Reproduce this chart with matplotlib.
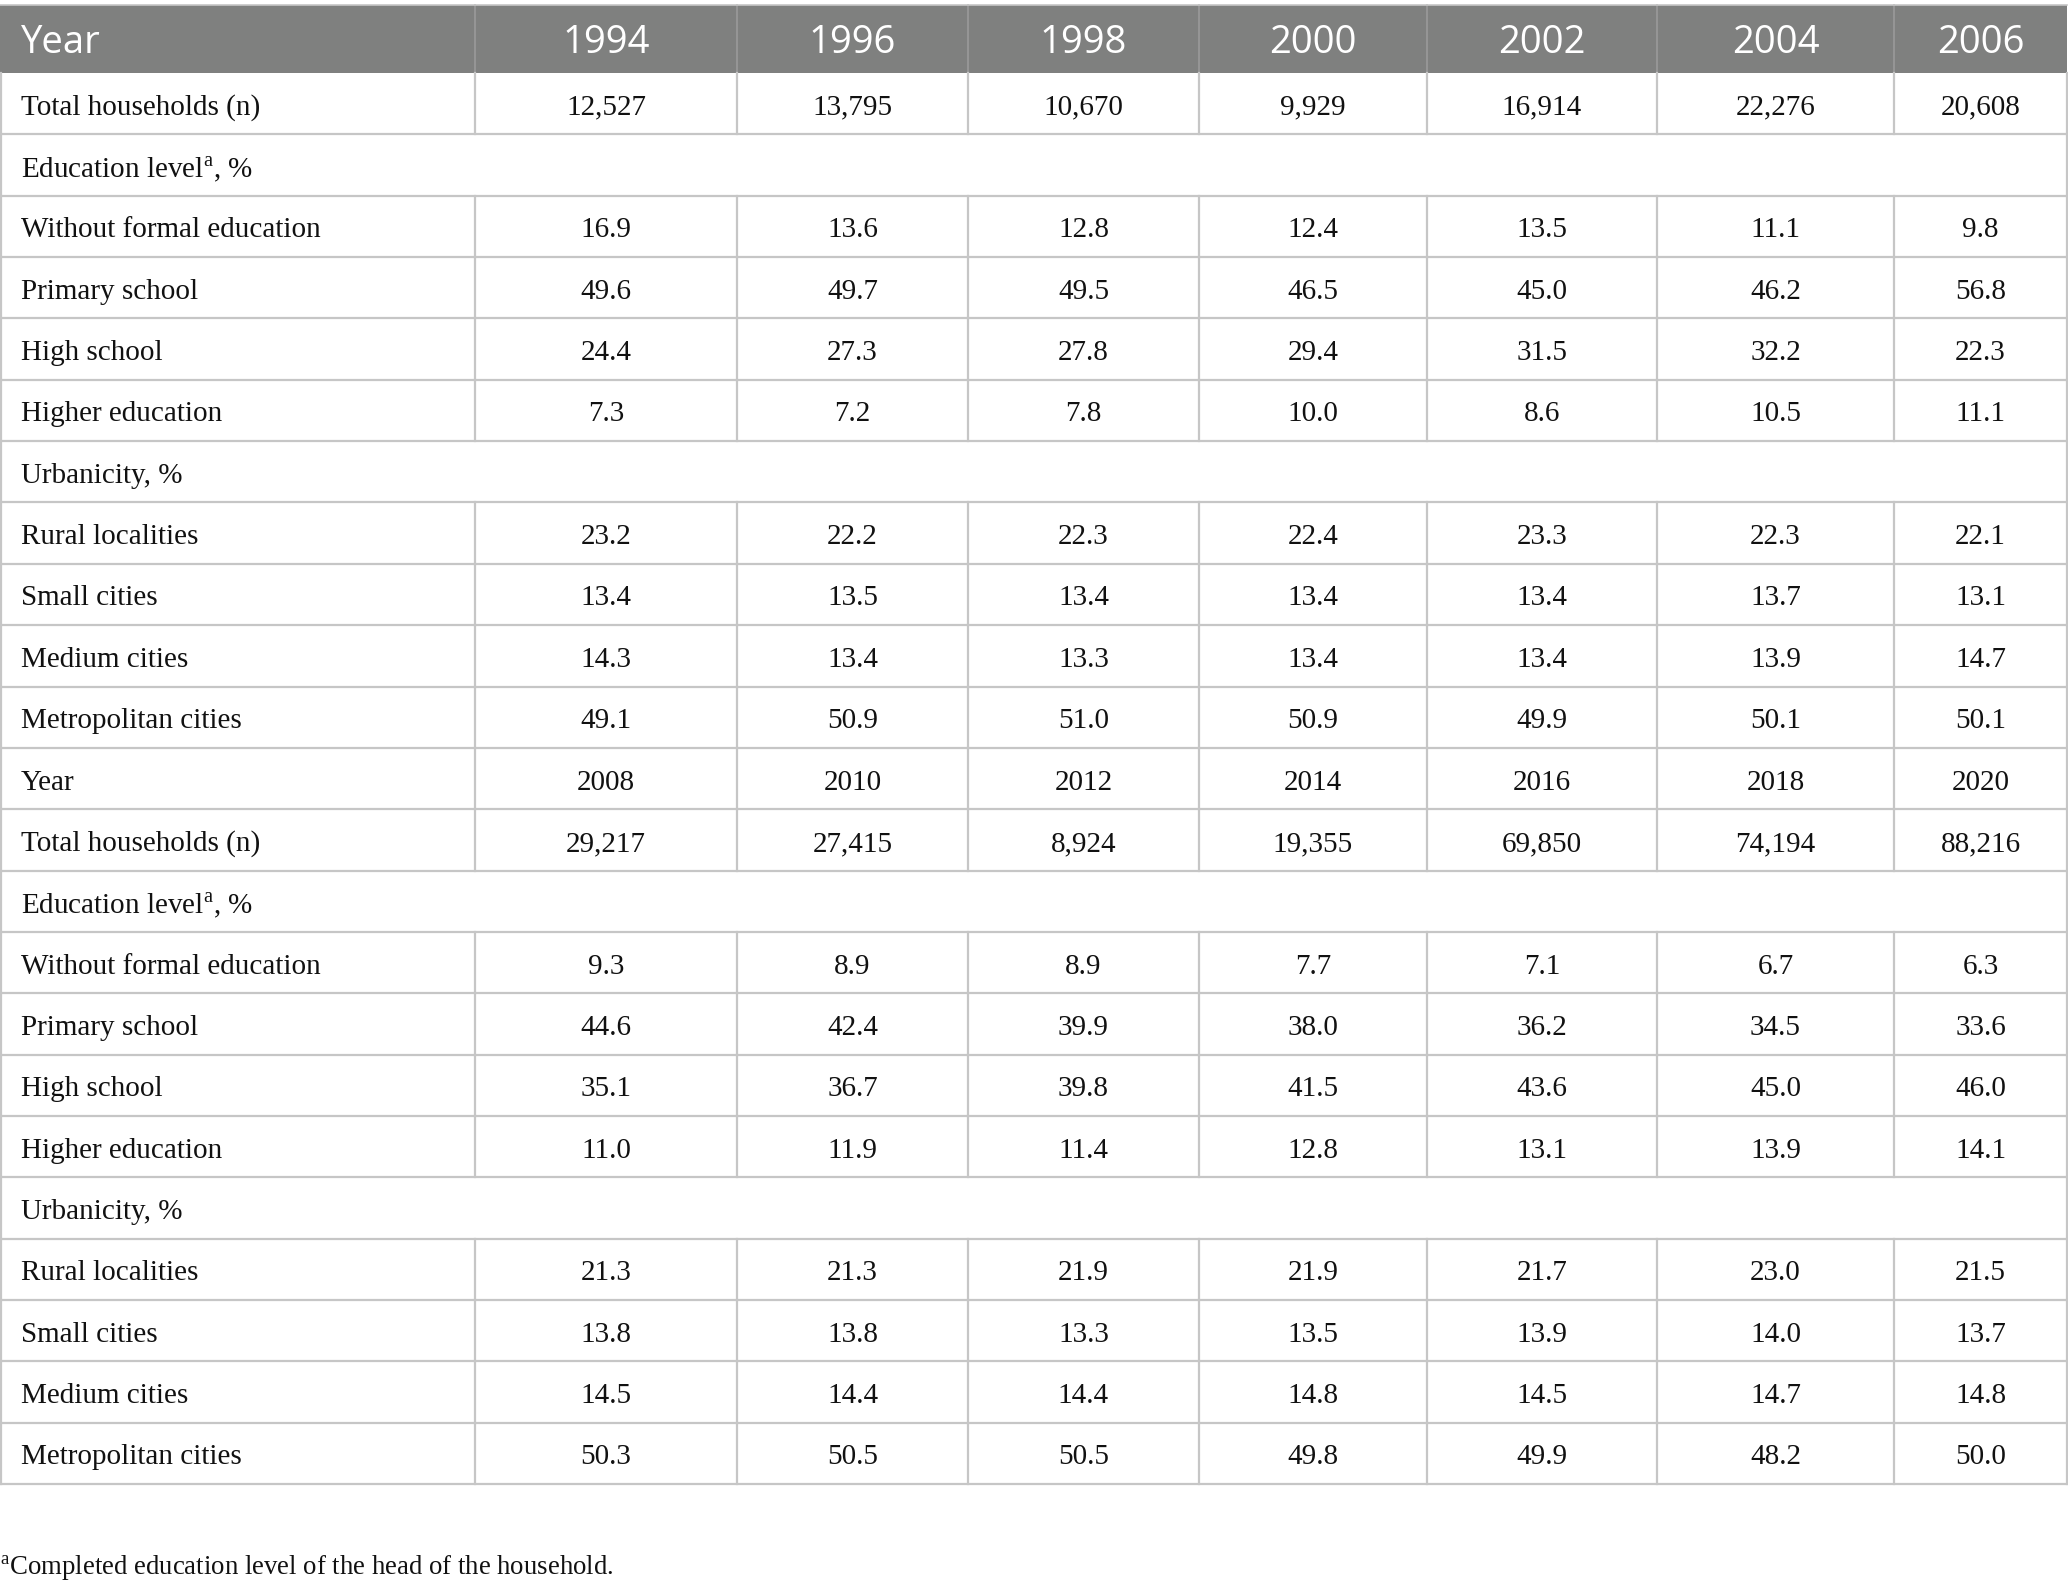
import matplotlib
matplotlib.use("Agg")
import matplotlib.pyplot as plt
from matplotlib.patches import Rectangle

# Données du tableau
years_a = [1994, 1996, 1998, 2000, 2002, 2004, 2006]
years_b = [2008, 2010, 2012, 2014, 2016, 2018, 2020]
households_a = [12527, 13795, 10670, 9929, 16914, 22276, 20608]
households_b = [29217, 27415, 8924, 19355, 69850, 74194, 88216]

edu_labels = ["Without formal education", "Primary school", "High school", "Higher education"]
edu_a = [[16.9, 13.6, 12.8, 12.4, 13.5, 11.1, 9.8],
         [49.6, 49.7, 49.5, 46.5, 45.0, 46.2, 56.8],
         [24.4, 27.3, 27.8, 29.4, 31.5, 32.2, 22.3],
         [7.3, 7.2, 7.8, 10.0, 8.6, 10.5, 11.1]]
edu_b = [[9.3, 8.9, 8.9, 7.7, 7.1, 6.7, 6.3],
         [44.6, 42.4, 39.9, 38.0, 36.2, 34.5, 33.6],
         [35.1, 36.7, 39.8, 41.5, 43.6, 45.0, 46.0],
         [11.0, 11.9, 11.4, 12.8, 13.1, 13.9, 14.1]]

urb_labels = ["Rural localities", "Small cities", "Medium cities", "Metropolitan cities"]
urb_a = [[23.2, 22.2, 22.3, 22.4, 23.3, 22.3, 22.1],
         [13.4, 13.5, 13.4, 13.4, 13.4, 13.7, 13.1],
         [14.3, 13.4, 13.3, 13.4, 13.4, 13.9, 14.7],
         [49.1, 50.9, 51.0, 50.9, 49.9, 50.1, 50.1]]
urb_b = [[21.3, 21.3, 21.9, 21.9, 21.7, 23.0, 21.5],
         [13.8, 13.8, 13.3, 13.5, 13.9, 14.0, 13.7],
         [14.5, 14.4, 14.4, 14.8, 14.5, 14.7, 14.8],
         [50.3, 50.5, 50.5, 49.8, 49.9, 48.2, 50.0]]

edu_title = "Education level$^{\\mathrm{a}}$, %"
urb_title = "Urbanicity, %"
footnote = "$^{\\mathrm{a}}$Completed education level of the head of the household."

# Construction des lignes: (type, libellé, valeurs)
rows = []
for i, (yrs, hh, edu, urb) in enumerate([(years_a, households_a, edu_a, urb_a),
                                         (years_b, households_b, edu_b, urb_b)]):
    if i == 0:
        rows.append(("head", "Year", [str(y) for y in yrs]))
    else:
        rows.append(("data", "Year", [str(y) for y in yrs]))
    rows.append(("data", "Total households (n)", [f"{v:,}" for v in hh]))
    rows.append(("section", edu_title, None))
    for lab, vals in zip(edu_labels, edu):
        rows.append(("data", lab, [f"{v:.1f}" for v in vals]))
    rows.append(("section", urb_title, None))
    for lab, vals in zip(urb_labels, urb):
        rows.append(("data", lab, [f"{v:.1f}" for v in vals]))

# Mise en page (pixels)
W, H = 2068, 1586
col_edges = [0, 475, 737, 968, 1199, 1427, 1657, 1894, 2067]
top = 5
head_h = 68
row_h = 61.35
grid = "#c6c6c6"
head_bg = "#7f807f"

plt.rcParams["mathtext.fontset"] = "custom"
plt.rcParams["mathtext.rm"] = "Liberation Serif"

fig = plt.figure(figsize=(W / 100, H / 100), dpi=100)
ax = fig.add_axes([0, 0, 1, 1])
ax.set_xlim(0, W)
ax.set_ylim(H, 0)
ax.axis("off")

serif = "Liberation Serif"
sans = "Open Sans"
fs_body = 21
fs_head = 27.5

y = top
for kind, label, vals in rows:
    h = head_h if kind == "head" else row_h
    yc = y + h / 2
    if kind == "head":
        ax.add_patch(Rectangle((0, y), col_edges[-1], h, facecolor=head_bg, edgecolor="none"))
        ax.text(21, yc + 4, label, fontsize=fs_head, family=sans, color="white", va="center", ha="left")
        for j, v in enumerate(vals):
            xc = (col_edges[j + 1] + col_edges[j + 2]) / 2
            ax.text(xc, yc + 4, v, fontsize=fs_head, family=sans, color="white", va="center", ha="center")
        for x in col_edges[1:-1]:
            ax.plot([x, x], [y, y + h], color="#9a9a9a", lw=1.2)
    else:
        ax.text(21, yc + 4, label, fontsize=fs_body, family=serif, color="#111111", va="center", ha="left")
        if vals is not None:
            for j, v in enumerate(vals):
                xc = (col_edges[j + 1] + col_edges[j + 2]) / 2
                ax.text(xc, yc + 4, v, fontsize=fs_body, family=serif, color="#111111",
                        va="center", ha="center")
            for x in col_edges[1:-1]:
                ax.plot([x, x], [y, y + h], color=grid, lw=1.6)
        ax.plot([col_edges[0] + 0.8, col_edges[0] + 0.8], [y, y + h], color=grid, lw=1.6)
        ax.plot([col_edges[-1], col_edges[-1]], [y, y + h], color=grid, lw=1.6)
        ax.plot([0, col_edges[-1]], [y + h, y + h], color=grid, lw=1.6)
    y += h

ax.plot([0, col_edges[-1]], [top, top], color=grid, lw=1.2)

ax.text(0, 1568, footnote, fontsize=19.3, family=serif, color="#111111", va="center", ha="left")

fig.savefig("out.png", dpi=100)
